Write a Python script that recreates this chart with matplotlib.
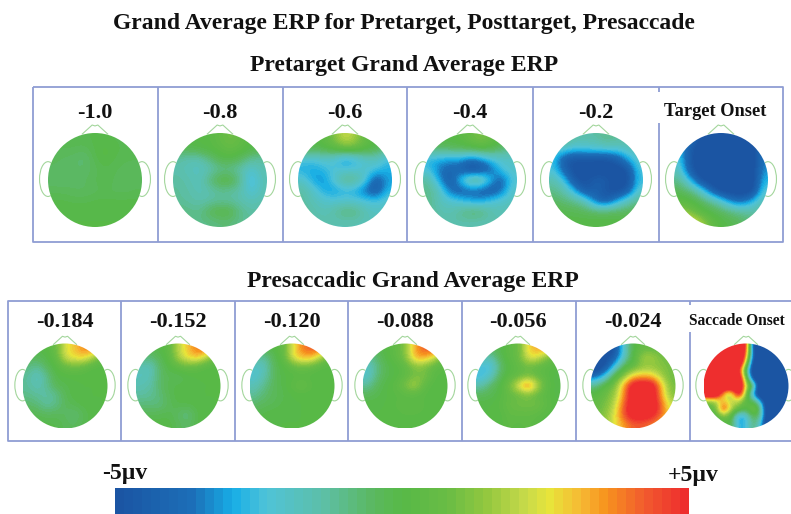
import matplotlib
matplotlib.use("Agg")
import matplotlib.pyplot as plt
import numpy as np
from matplotlib.colors import LinearSegmentedColormap, Normalize
from matplotlib.cm import ScalarMappable
from matplotlib.patches import Circle, Ellipse, Polygon

plt.rcParams['font.family'] = ['Liberation Serif', 'DejaVu Serif']

W, H = 791, 514

# ---------- data: scalp potentials (microvolts), rows top->bottom of the head ----------
main_title = "Grand Average ERP for Pretarget, Posttarget, Presaccade"
top_title = "Pretarget Grand Average ERP"
bottom_title = "Presaccadic Grand Average ERP"
top_labels = ["-1.0", "-0.8", "-0.6", "-0.4", "-0.2", "Target Onset"]
bottom_labels = ["-0.184", "-0.152", "-0.120", "-0.088", "-0.056", "-0.024", "Saccade Onset"]

m_10 = [[-.2,-.2,-.2,-.2,-.1,-.1,-.2,-.2,-.2],
        [-.3,-.3,-.3,-.4,-.1,.1,-.1,-.2,-.2],
        [-.4,-.5,-.6,-.8,-.2,.1,-.2,-.3,-.3],
        [-.5,-.6,-.6,-.6,-.4,-.2,-.3,-.4,-.4],
        [-.6,-.6,-.5,-.5,-.3,-.1,-.4,-.4,-.4],
        [-.4,-.4,-.5,-.5,-.4,-.3,-.4,-.4,-.3],
        [-.1,-.1,-.2,-.2,-.1,-.1,-.1,-.1,-.1],
        [0,0,0,0,0,0,0,0,0],
        [0,0,0,0,0,0,0,0,0]]
m_08 = [[0,0,0,.1,.5,1,.5,0,0],
        [-.3,-.2,0,.1,.3,.6,.3,0,-.2],
        [-1.3,-1.6,-1.6,-.9,-.2,-.1,-.5,-1.2,-1.3],
        [-1.5,-1.7,-1.9,-1.6,-1.1,-1.1,-1.5,-2.2,-1.5],
        [-1.3,-1.5,-1.8,-.8,0,0,-1,-2.9,-1.6],
        [-1.2,-1.4,-1.7,-1.5,-1.1,-1.2,-1.5,-2.4,-1.6],
        [-1.2,-1.3,-1.5,-1.4,-1.2,-1.3,-1.5,-1.7,-1.5],
        [-.8,-1,-1.1,-.3,0,-.1,-1,-1.4,-1.3],
        [-.5,-.8,-1,-1,-.8,-.8,-1.1,-1.2,-1.2]]
m_06 = [[0,0,.3,1.2,2.3,1.7,.5,0,0],
        [-.1,-.3,0,.3,.9,.7,.2,-.2,-.8],
        [-2.3,-2.4,-2,-2.3,-3.3,-2.7,-2,-1.7,-2.6],
        [-2.9,-3,-2.7,-2.3,-2.3,-2.3,-2.1,-2.5,-2.9],
        [-2,-3.1,-3.3,-2,-.8,-.9,-2.2,-4.5,-3.1],
        [-1.3,-2,-3,-3.2,-2.8,-3,-3.9,-4.6,-2.8],
        [-1.3,-1.7,-2,-2.2,-2.1,-2.2,-2.3,-2.5,-2],
        [-1.1,-1.5,-1.7,-1.3,-.7,-.8,-1.6,-1.9,-1.8],
        [-1,-1.3,-1.5,-1.6,-1.6,-1.6,-1.7,-1.8,-1.8]]
m_04 = [[0,0,0,.2,.6,1.2,.7,0,0],
        [-.6,-.6,-.4,-.3,-.1,.1,-.1,-.6,-1.2],
        [-2.8,-2.9,-3.2,-3,-3.8,-3.3,-2.4,-2.1,-2],
        [-2.4,-3.6,-4,-4.2,-5.2,-5,-4,-2.4,-2],
        [-1.2,-3,-4.6,-2.6,-.6,-.6,-2.6,-4.3,-2.3],
        [-1,-1.6,-3.7,-4.4,-4,-4.2,-4.6,-3.8,-2],
        [-1,-1.7,-2,-2.4,-3,-3.2,-2.4,-2,-1.8],
        [-1,-1.5,-1.7,-1.1,-.6,-.6,-1.4,-1.7,-1.6],
        [-.8,-1.3,-1.4,-1.5,-1.5,-1.6,-1.6,-1.5,-1.3]]
m_02 = [[-.8,-.8,-1.4,-1.4,-1.4,-.9,-1.2,-1.3,-.8],
        [-2,-2,-2.4,-2.3,-2.1,-2,-2,-1.8,-1.8],
        [-2.6,-4.6,-5,-4.8,-5,-5,-4.5,-3,-2],
        [-2.4,-4.3,-5.2,-5.3,-5.3,-5.3,-5.3,-5,-2.4],
        [-1.5,-2.6,-5,-5,-4.4,-4.5,-5.3,-5.3,-2.6],
        [-1,-1.5,-3,-4.9,-4.2,-4.9,-5.3,-4.6,-2.1],
        [-.5,-.8,-1,-1.7,-4,-4.6,-3,-1.7,-1],
        [-.1,-.2,-.3,-.4,-.5,-.5,-.4,-.4,-.3],
        [0,0,0,0,0,0,0,0,0]]
m_target = [[-3,-3.5,-5,-5.5,-5.5,-5.5,-5.5,-5,-3],
            [-2.8,-4.5,-5.5,-5.5,-5.5,-5.5,-5.5,-5.5,-3.5],
            [-2.2,-4.6,-5.5,-5.5,-5.5,-5.5,-5.5,-5.5,-3.5],
            [-1.8,-4.5,-5.5,-5.5,-5.5,-5.5,-5.5,-5.5,-3.2],
            [-1,-2.6,-5,-5.5,-5.5,-5.5,-5.5,-5.5,-2.8],
            [-.4,-.8,-1.8,-4,-5.5,-5.5,-5.5,-5.5,-2.2],
            [.3,.1,-.4,-1,-2,-3.6,-4,-2.8,-1.6],
            [1.6,1,.2,-.2,-.4,-.8,-1.2,-1.4,-1.2],
            [3,2.7,2,.6,0,-.2,-.5,-.8,-.8]]
m_184 = [[0,0,0,.8,2.4,3,3.8,4,3.5],
         [-.3,-.4,-.1,.4,2.5,2.8,3,1.8,.5],
         [-.8,-1.2,-.4,.1,.6,.9,.5,0,0],
         [-1.2,-1.9,-1.1,-.1,0,0,0,0,0],
         [-1.2,-1.7,-1.1,-.3,-.2,0,0,0,0],
         [-1,-1.2,-1.4,-1.1,-.3,0,0,0,0],
         [-.6,-.8,-1.3,-1,-.4,-.2,0,0,0],
         [-.2,-.3,-.5,-.4,-.5,-.8,-.3,0,0],
         [0,0,-.1,-.1,-.4,-.5,-.2,0,0]]
m_152 = [[-.2,-.2,0,.4,2,3,4,4.2,3.6],
         [-.7,-.8,-.3,.2,2,2.8,3.3,2,.6],
         [-1.6,-1.8,-.6,0,.4,.8,.4,0,0],
         [-1.8,-1.7,-.6,-.3,-.4,-.2,0,0,0],
         [-1.6,-1.4,-.6,-.2,-.1,0,0,0,0],
         [-1.3,-1.2,-.8,-.3,0,0,0,0,0],
         [-.8,-.8,-.9,-.4,-.1,-.1,0,0,0],
         [-.3,-.4,-.3,-.2,-.6,-1,-.1,0,0],
         [0,0,0,0,-.4,-.6,-.1,0,0]]
m_120 = [[-.3,-.2,0,.5,2.4,3.8,4.3,4.5,3.8],
         [-1,-1.3,-.3,.3,2.6,3.3,3.4,1.8,.5],
         [-2,-1.8,-.4,0,.4,.9,.5,.1,0],
         [-2.2,-1.6,-.5,0,0,.1,0,0,0],
         [-1.7,-1,-.4,-.1,.3,.8,.2,0,0],
         [-1.2,-.7,-.4,-.2,0,0,0,0,0],
         [-.6,-.4,-.3,-.1,0,0,0,0,0],
         [-.2,-.1,0,0,0,0,0,0,0],
         [0,0,0,0,0,0,0,0,0]]
m_088 = [[-.4,-.2,0,.5,1.2,3.4,4.2,5,4.4],
         [-1.3,-.6,0,.4,1.2,3.4,3.6,2.4,.6],
         [-2,-1,-.2,0,.4,1.2,1,.4,.2],
         [-2.1,-.8,-.2,0,.4,1,1.2,.2,0],
         [-1.2,-.4,0,.3,1.2,2,.4,0,0],
         [-.4,-.2,0,.1,.2,.2,.1,0,0],
         [0,0,0,.2,.3,.3,.2,0,0],
         [0,0,0,.1,.2,.2,.1,0,0],
         [0,0,0,0,0,0,0,0,0]]
m_056 = [[-.3,-.3,-.2,.4,.6,2.8,3.4,3.8,3.2],
         [-1.3,-1.6,-.3,.3,.7,2.6,2.6,1.2,.3],
         [-2.4,-2.7,-.9,.1,.4,.8,.4,.2,0],
         [-2.7,-2,-.4,.2,.5,1,.6,.2,-.1],
         [-1.5,-.6,-.1,1,2.8,4.6,2.2,.3,-.1],
         [-.4,-.3,0,.5,.7,1,.5,.2,-.1],
         [0,0,.2,.7,.9,1,.9,.4,0],
         [0,0,0,.5,.5,.5,.4,.1,0],
         [0,0,0,.4,.2,.4,.1,0,0]]
m_024 = [[-6,-6,-5,-2,0,.5,.5,.5,.5],
         [-6,-5,-4.5,-2,0,1.8,1.8,1,.8],
         [-6,-5,-2.5,0,.5,1.3,1.3,1.2,1],
         [-4,-2.5,.2,1.2,3,3.2,3,1.6,.8],
         [-1,.3,1,3.5,6,6,6,3,1],
         [.2,.8,1.5,3.6,6,6,5.8,3.2,1.2],
         [.5,1,2,4.2,6,6,6,4,2],
         [.8,1.3,2.4,4.5,6,6,5.5,4,2.5],
         [1,1.5,2.5,3.5,4.2,4.2,3.8,3.2,2.5]]
m_saccade = [[8,8,8,8,8,5,-6,-8,-8,-8,-8],
             [8,8,8,8,8,4,-5,-8,-8,-8,-8],
             [8,8,8,8,8,2,-6,-8,-8,-8,-8],
             [8,8,8,8,5,-1,-7,-8,-8,-8,-8],
             [8,8,8,8,7,.5,-6,-8,-8,-8,-8],
             [8,8,8,8,8,2,0,-8,-8,-8,-8],
             [8,8,3,1,7,1,-4,-8,-8,-8,-8],
             [1,1.5,3,2,2,0,-.5,-3,-8,-8,-8],
             [.5,.5,5.5,2,.8,0,1.8,-1.5,-8,-8,-8],
             [0,0,1,.3,-3.5,-2.5,0,-1.5,-8,-8,-8],
             [0,0,0,0,-3,-2.5,-.5,-3,-8,-8,-8]]

top_maps = [m_10, m_08, m_06, m_04, m_02, m_target]
bottom_maps = [m_184, m_152, m_120, m_088, m_056, m_024, m_saccade]
scale_limits = [-5, 5]
scale_labels = ["-5\u00b5v", "+5\u00b5v"]

# ---------- layout (pixels) ----------
top_cx = [95, 220, 345, 470, 596, 721]
top_cy, top_r = 180, 47
bot_cx = [65, 178, 292, 405, 518, 633, 746]
bot_cy, bot_r = 386, 42.5
FRAME = '#8f9dd3'

cmap = LinearSegmentedColormap.from_list('erp', [
    (0.00, '#1b55a3'), (0.13, '#1c6fb8'), (0.20, '#17aee6'), (0.26, '#4fc3d8'),
    (0.36, '#5dbfa8'), (0.45, '#5bb85f'), (0.50, '#57b947'), (0.58, '#69bc45'),
    (0.65, '#93c83f'), (0.72, '#c8da4a'), (0.76, '#e8e53a'), (0.82, '#f6b733'),
    (0.86, '#f7941e'), (0.93, '#f15a2e'), (1.00, '#ee2e2e')], N=64)
norm = Normalize(*scale_limits)

fig = plt.figure(figsize=(W / 100, H / 100), dpi=100, facecolor='white')
bg = fig.add_axes([0, 0, 1, 1])
bg.set_xlim(0, W); bg.set_ylim(H, 0); bg.axis('off')


def px_axes(x0, y0, x1, y1):
    return fig.add_axes([x0 / W, 1 - y1 / H, (x1 - x0) / W, (y1 - y0) / H])


def head(cx, cy, r, grid):
    m = 1.3
    ax = px_axes(cx - m * r, cy - m * r, cx + m * r, cy + m * r)
    ax.set_xlim(-m, m); ax.set_ylim(m, -m); ax.axis('off')
    c = '#a3d69c'
    ax.add_patch(Polygon([(-.28, -.97), (-.06, -1.17), (0, -1.15), (.06, -1.17), (.28, -.97)],
                         closed=False, fill=False, ec=c, lw=.8, zorder=1))
    for s in (-1, 1):
        ax.add_patch(Ellipse((s * 1.0, -.02), .36, .74, fill=False, ec=c, lw=.8, zorder=1))
    ax.add_patch(Circle((0, 0), 1, fc='white', ec='none', zorder=2))
    im = ax.imshow(np.array(grid, dtype=float), cmap=cmap, norm=norm, extent=[-1, 1, 1, -1],
                   interpolation='bicubic', interpolation_stage='data', zorder=3, aspect='equal')
    ax.set_xlim(-m, m); ax.set_ylim(m, -m)
    im.set_clip_path(Circle((0, 0), 1, transform=ax.transData))


for cx, g in zip(top_cx, top_maps):
    head(cx, top_cy, top_r, g)
for cx, g in zip(bot_cx, bottom_maps):
    head(cx, bot_cy, bot_r, g)

# frames
fl = dict(color=FRAME, lw=1.3, solid_capstyle='butt')
bg.plot([33, 783, 783, 33, 33], [87, 87, 242, 242, 87], **fl)
for x in [158, 283, 407, 533]:
    bg.plot([x, x], [87, 242], **fl)
bg.plot([659, 659], [87, 92], **fl); bg.plot([659, 659], [123, 242], **fl)
bg.plot([791, 8, 8, 791], [301, 301, 441, 441], **fl)
for x in [121, 235, 348, 462, 576]:
    bg.plot([x, x], [301, 441], **fl)
bg.plot([690, 690], [301, 305], **fl); bg.plot([690, 690], [332, 441], **fl)

# text
tk = dict(ha='center', va='center', fontweight='bold', color='#111111')
bg.text(404, 24, main_title, fontsize=17, **tk)
bg.text(404, 65, top_title, fontsize=17, **tk)
bg.text(413, 282, bottom_title, fontsize=17, **tk)
for cx, t in zip(top_cx, top_labels):
    if t == "Target Onset":
        bg.text(715, 111, t, fontsize=13.2, **tk)
    else:
        bg.text(cx, 113, t, fontsize=16, **tk)
for cx, t in zip(bot_cx, bottom_labels):
    if t == "Saccade Onset":
        bg.text(737, 321, t, fontsize=11.2, **tk)
    else:
        bg.text(cx, 322, t, fontsize=16, **tk)

# colour scale
cax = px_axes(115, 488, 689, 514)
cb = fig.colorbar(ScalarMappable(norm=norm, cmap=cmap), cax=cax, orientation='horizontal', ticks=[])
cb.outline.set_visible(False)
bg.text(125, 473, scale_labels[0], fontsize=17, **tk)
bg.text(693, 475, scale_labels[1], fontsize=17, **tk)

fig.savefig('out.png', dpi=100)
